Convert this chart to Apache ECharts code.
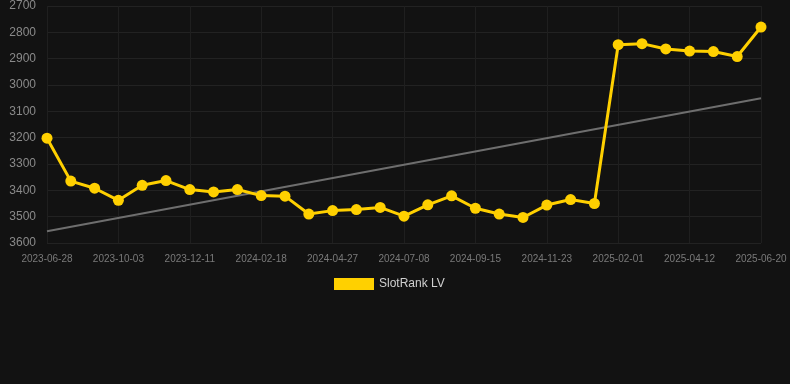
<!DOCTYPE html>
<html><head><meta charset="utf-8">
<script src="https://cdn.jsdelivr.net/npm/echarts@6/dist/echarts.min.js"></script>
<style>html,body{margin:0;padding:0;background:#121212;}#c{width:790px;height:384px;}</style>
</head><body><div id="c"></div>
<script>
const categories = ['2023-06-28','2023-07-30','2023-08-31','2023-10-03','2023-10-26','2023-11-18','2023-12-11','2024-01-03','2024-01-26','2024-02-18','2024-03-12','2024-04-04','2024-04-27','2024-05-21','2024-06-14','2024-07-08','2024-07-31','2024-08-23','2024-09-15','2024-10-08','2024-10-31','2024-11-23','2024-12-16','2025-01-08','2025-02-01','2025-02-24','2025-03-19','2025-04-12','2025-05-05','2025-05-28','2025-06-20'];
const rankValues = [3202,3365,3392,3438,3381,3363,3397,3406,3397,3420,3422,3490,3477,3473,3465,3498,3455,3421,3468,3490,3503,3456,3435,3450,2847,2843,2863,2871,2873,2892,2780];
const trendValues = [3555,3050];
const yTicks = {min:2700,max:3600,interval:100};
const seriesName = 'SlotRank LV';

const chart = echarts.init(document.getElementById('c'));
chart.setOption({
  backgroundColor:'#121212',
  animation:false,
  grid:{left:47,right:29,top:6,bottom:141},
  legend:{data:[seriesName],top:273,left:329,icon:'rect',itemWidth:40,itemHeight:12,itemGap:10,
    textStyle:{color:'#d0d0d0',fontSize:12,fontFamily:'Arial, Liberation Sans, sans-serif'}},
  xAxis:{type:'category',data:categories,boundaryGap:false,
    axisLine:{show:false},axisTick:{show:false},
    axisLabel:{interval:2,color:'#7a7a7a',fontSize:10,margin:11,fontFamily:'Arial, Liberation Sans, sans-serif'},
    splitLine:{show:true,interval:2,lineStyle:{color:'#1f1f1f',width:1}}},
  yAxis:{type:'value',inverse:true,min:yTicks.min,max:yTicks.max,interval:yTicks.interval,
    axisLine:{show:false},axisTick:{show:false},
    axisLabel:{color:'#8a8a8a',fontSize:12,margin:11,fontFamily:'Arial, Liberation Sans, sans-serif',formatter:v=>String(v)},
    splitLine:{lineStyle:{color:'#222222',width:1}}},
  series:[
    {name:'trend',type:'line',data:[[categories[0],trendValues[0]],[categories[categories.length-1],trendValues[1]]],
      symbol:'none',lineStyle:{color:'#6e6e6e',width:2},silent:true,z:1},
    {name:seriesName,type:'line',data:rankValues,symbol:'circle',symbolSize:11,
      itemStyle:{color:'#ffd000'},lineStyle:{color:'#ffd000',width:3},z:3}
  ]
});
</script></body></html>
